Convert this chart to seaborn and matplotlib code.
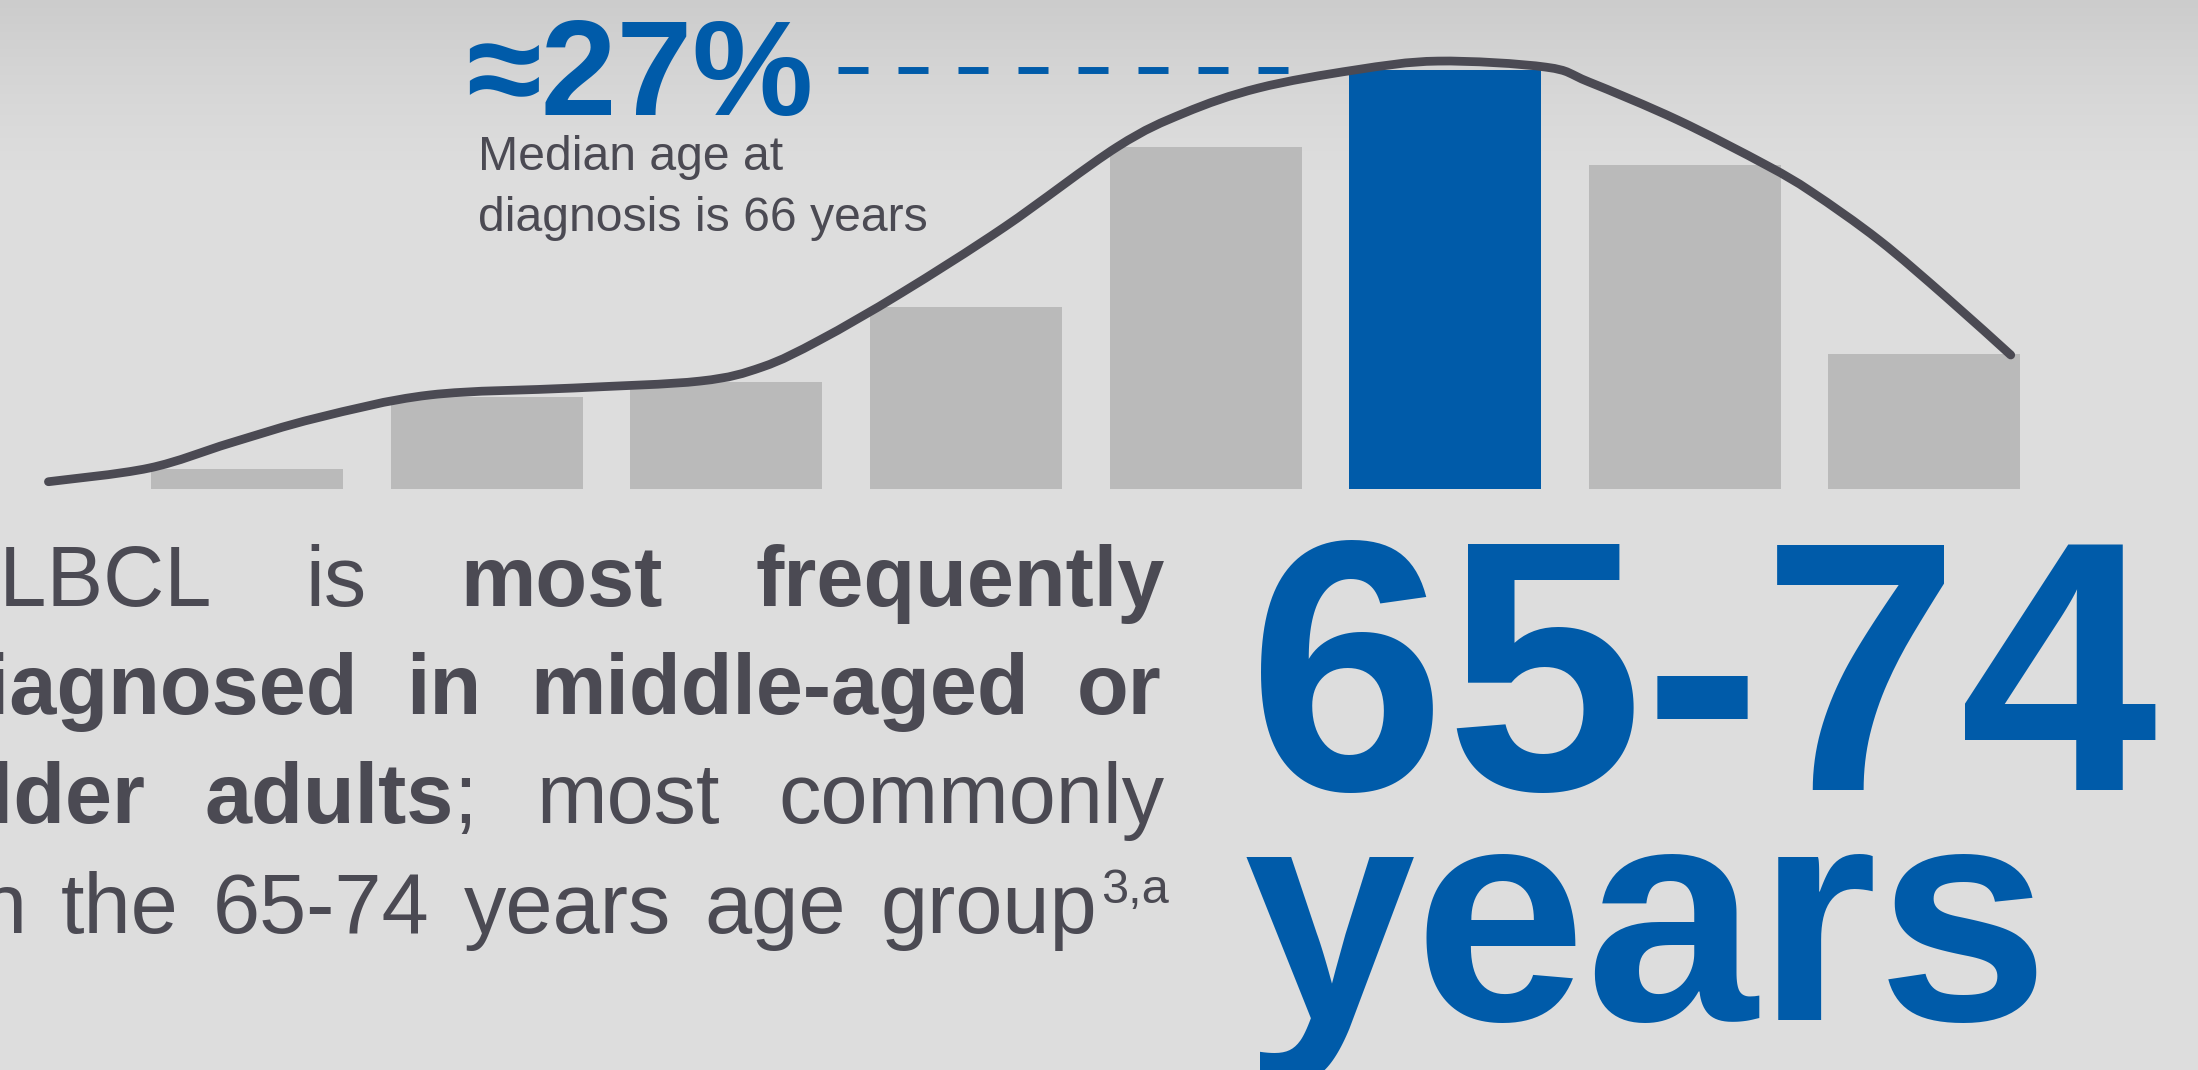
import numpy as np
import pandas as pd
import matplotlib
matplotlib.use("Agg")
import matplotlib.pyplot as plt
from matplotlib.path import Path
from matplotlib.patches import PathPatch
import seaborn as sns

# ---------------- data ----------------
age_groups = ['<20', '20-34', '35-44', '45-54', '55-64', '65-74', '75-84', '85+']
pct_diagnosed = [1.3, 5.9, 6.9, 11.7, 22.0, 27.0, 20.9, 8.7]
highlight_group = '65-74'

# trend line (position in age-group units, % of diagnoses)
curve_pos = [-0.83, -0.41, -0.07, 0.29, 0.76, 1.36, 1.89, 2.15, 2.39, 2.73, 3.16,
             3.63, 3.91, 4.22, 4.62, 4.97, 5.42, 5.60, 5.97, 6.34, 6.53, 6.81, 7.09, 7.36]
curve_pct = [0.45, 1.33, 2.95, 4.56, 6.04, 6.49, 6.94, 7.85, 9.59, 12.62, 16.87,
             22.03, 24.22, 25.83, 26.99, 27.57, 27.18, 26.22, 23.77, 20.86, 19.12, 16.03, 12.36, 8.62]

peak_label = '≈27%'
median_lines = ['Median age at', 'diagnosis is 66 years']
big_range = '65-74'
big_unit = 'years'
footnote = '3,a'

# ---------------- style ----------------
W, H, DPI = 2198, 1070, 100
BLUE = '#005ba9'
GREY_BAR = '#bababa'
DARK = '#4b4a53'
BG = '#dddddd'

sns.set_theme(style='white')
plt.rcParams['font.family'] = ['Liberation Sans', 'DejaVu Sans']

fig = plt.figure(figsize=(W / DPI, H / DPI), dpi=DPI)
fig.patch.set_facecolor(BG)

# background gradient (darker at the top)
bg = fig.add_axes([0, 0, 1, 1], zorder=-10)
yy = np.arange(H)
g = 221 - 17 * np.clip(1 - yy / 170.0, 0, 1) ** 1.3
img = np.repeat(g[:, None], 8, axis=1) / 255.0
bg.imshow(np.dstack([img, img, img]), aspect='auto', extent=[0, 1, 0, 1])
bg.set_axis_off()

# chart axes: baseline 488.7 px from the top
base_px = 488.7
px_per_pct = 15.51
cat_px0, cat_step = 247.3, 239.6
ax = fig.add_axes([0, (H - base_px) / H, 1, base_px / H])
ax.patch.set_alpha(0)

colors = [BLUE if a == highlight_group else GREY_BAR for a in age_groups]
df = pd.DataFrame({'age': age_groups, 'pct': pct_diagnosed})
sns.barplot(data=df, x='age', y='pct', hue='age', order=age_groups, hue_order=age_groups,
            palette=colors, saturation=1, width=192 / cat_step, legend=False,
            linewidth=0, ax=ax)

# smooth trend line through the read points (Catmull-Rom as cubic Bezier, data coords)
pts = np.column_stack([curve_pos, curve_pct])
ext = np.vstack([pts[0], pts, pts[-1]])
verts = [tuple(pts[0])]
codes = [Path.MOVETO]
for i in range(1, len(ext) - 2):
    p0, p1, p2, p3 = ext[i - 1], ext[i], ext[i + 1], ext[i + 2]
    c1 = p1 + (p2 - p0) / 6.0
    c2 = p2 - (p3 - p1) / 6.0
    verts += [tuple(c1), tuple(c2), tuple(p2)]
    codes += [Path.CURVE4] * 3
ax.add_patch(PathPatch(Path(verts, codes), fill=False, edgecolor=DARK, lw=6.3,
                       capstyle='round', joinstyle='round', zorder=5,
                       transform=ax.transData))

peak = max(pct_diagnosed)
ax.plot([(838 - cat_px0) / cat_step, (1289 - cat_px0) / cat_step], [peak, peak],
        color=BLUE, lw=5, linestyle=(0, (4.32, 4.32)), dash_capstyle='butt', zorder=2)

ax.set_xlim(-cat_px0 / cat_step, (W - cat_px0) / cat_step)
ax.set_ylim(0, base_px / px_per_pct)
ax.set_axis_off()


def fp(x, y):
    return x / W, 1 - y / H


# peak annotation
fig.text(*fp(466, 115), peak_label, color=BLUE, fontsize=98, fontweight='bold',
         ha='left', va='baseline')
fig.text(*fp(478, 170), median_lines[0], color=DARK, fontsize=34.7, ha='left', va='baseline')
fig.text(*fp(478, 231), median_lines[1], color=DARK, fontsize=34.7, ha='left', va='baseline')

# big range
fig.text(*fp(1248, 790), big_range, color=BLUE, fontsize=256, fontweight='bold',
         ha='left', va='baseline')
fig.text(*fp(1244, 1020), big_unit, color=BLUE, fontsize=222, fontweight='bold',
         ha='left', va='baseline')

# justified body paragraph (its left part is cut by the figure edge)
BODY_FS = 61
renderer = fig.canvas.get_renderer()


def word_width(segs):
    w = 0
    for s, wt in segs:
        t = fig.text(0, 0, s, fontsize=BODY_FS, fontweight=wt)
        w += t.get_window_extent(renderer).width
        t.remove()
    return w


def draw_word(segs, x_left, y_base):
    x = x_left
    for s, wt in segs:
        t = fig.text(*fp(x, y_base), s, fontsize=BODY_FS, fontweight=wt, color=DARK,
                     ha='left', va='baseline')
        x += t.get_window_extent(renderer).width
    return x


body = [
    ([[('DLBCL', 'normal')], [('is', 'normal')], [('most', 'bold')], [('frequently', 'bold')]], 212, 1165, 606),
    ([[('diagnosed', 'bold')], [('in', 'bold')], [('middle-aged', 'bold')], [('or', 'bold')]], 358, 1162, 714),
    ([[('older', 'bold')], [('adults', 'bold'), (';', 'normal')], [('most', 'normal')], [('commonly', 'normal')]], 146, 1164, 823),
    ([[('in', 'normal')], [('the', 'normal')], [('65-74', 'normal')], [('years', 'normal')],
      [('age', 'normal')], [('group', 'normal')]], 27, 1097, 933),
]
for words, first_end, last_end, yb in body:
    widths = [word_width(w) for w in words]
    gap = ((last_end - first_end) - sum(widths[1:])) / (len(words) - 1)
    draw_word(words[0], first_end - widths[0], yb)
    x = first_end + gap
    for w, wd in zip(words[1:], widths[1:]):
        draw_word(w, x, yb)
        x += wd + gap

fig.text(*fp(1101, 903), footnote, color=DARK, fontsize=35, ha='left', va='baseline')

fig.savefig('out.png', dpi=DPI, facecolor=fig.get_facecolor())
